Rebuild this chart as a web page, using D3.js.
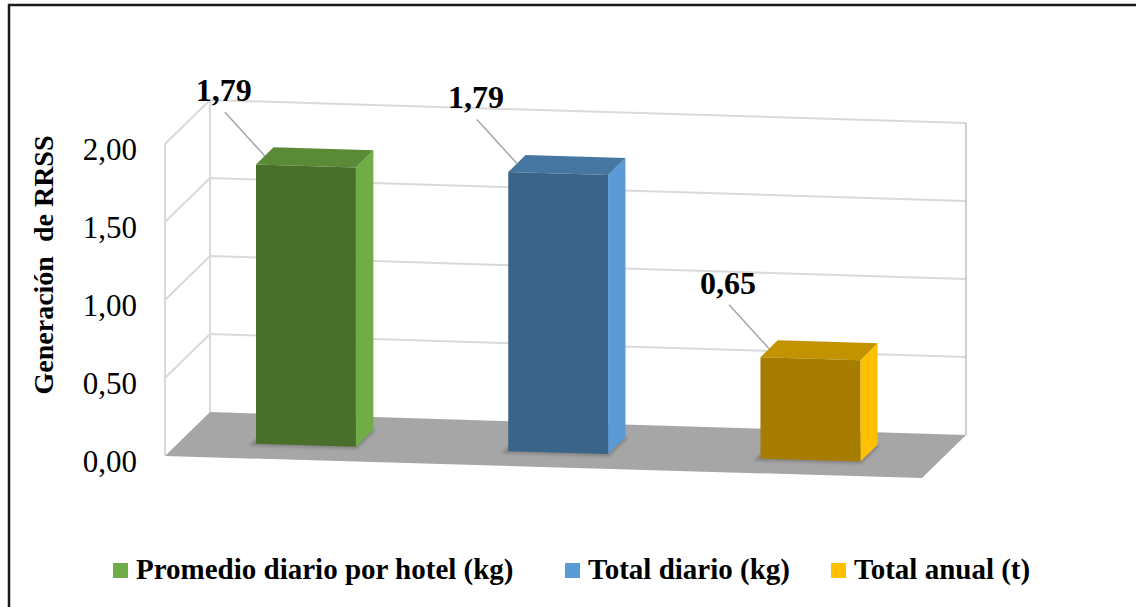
<!DOCTYPE html>
<html>
<head>
<meta charset="utf-8">
<script src="https://cdn.jsdelivr.net/npm/d3@7"></script>
<style>
  body { margin: 0; background: #fff; }
  svg { display: block; font-family: "Liberation Serif", "Times New Roman", serif; }
</style>
</head>
<body>
<script>
// data
const categories = ['Promedio diario por hotel (kg)', 'Total diario (kg)', 'Total anual (t)'];
const values = [1.79, 1.79, 0.65];
const valueLabels = ['1,79', '1,79', '0,65'];
const yTicks = [0, 0.5, 1, 1.5, 2];
const yTickLabels = ['0,00', '0,50', '1,00', '1,50', '2,00'];

const colors = {
  front: ['#4a6f2b', '#3a6488', '#a67d00'],
  side: ['#70ad47', '#5b9bd5', '#ffc000'],
  top: ['#5a8a36', '#4677a3', '#c29200'],
  legend: ['#70ad47', '#5b9bd5', '#ffc000']
};

const width = 1136, height = 607;

// floor corners of the 3D box (screen px)
const FL = [165, 456], FR = [922, 478], BL = [210, 412], BR = [966, 435];

// u across (0..1), depth (0 front .. 1 back)
const x = d3.scalePoint().domain(categories).range([0, 1]).padding(0.5);
const y = d3.scaleLinear().domain([0, 2]).range([0, 312]);
const barW = 0.132, d0 = 0.33, d1 = 0.72;

function proj(u, d, v) {
  const fx = FL[0] + u * (FR[0] - FL[0]), fy = FL[1] + u * (FR[1] - FL[1]);
  const bx = BL[0] + u * (BR[0] - BL[0]), by = BL[1] + u * (BR[1] - BL[1]);
  return [fx + d * (bx - fx), fy + d * (by - fy) - y(v)];
}

const svg = d3.select('body').append('svg')
  .attr('width', width).attr('height', height);

const defs = svg.append('defs');
defs.append('filter').attr('id', 'blur')
  .append('feGaussianBlur').attr('stdDeviation', 1.5);

// frame
svg.append('rect')
  .attr('x', 9).attr('y', 5)
  .attr('width', width + 20).attr('height', height + 20)
  .attr('fill', 'none').attr('stroke', '#1a1a1a').attr('stroke-width', 2.5);

const line = d3.line();

// floor
svg.append('path')
  .attr('d', line([proj(0, 0, 0), proj(1, 0, 0), proj(1, 1, 0), proj(0, 1, 0)]) + 'Z')
  .attr('fill', '#a6a6a6');

// gridlines: back wall and side wall
const grid = svg.append('g').attr('fill', 'none').attr('stroke', '#d9d9d9').attr('stroke-width', 2);
yTicks.filter(v => v > 0).forEach(v => {
  grid.append('path').attr('d', line([proj(0, 0, v), proj(0, 1, v), proj(1, 1, v)]));
});
// wall edges
grid.append('path').attr('d', line([proj(0, 0, 0), proj(0, 0, 2)]));
grid.append('path').attr('d', line([proj(0, 1, 0), proj(0, 1, 2)]));
svg.append('path')
  .attr('d', line([proj(1, 1, 0), proj(1, 1, 2)]))
  .attr('stroke', '#bfbfbf').attr('stroke-width', 1.5);

// y tick labels
svg.append('g').selectAll('text')
  .data(yTicks)
  .join('text')
  .attr('x', 137)
  .attr('y', d => proj(0, 0, d)[1] + 16)
  .attr('text-anchor', 'end')
  .attr('font-size', 31)
  .text((d, i) => yTickLabels[i]);

// axis title
svg.append('text')
  .attr('transform', 'translate(53,265) rotate(-90)')
  .attr('text-anchor', 'middle')
  .attr('font-size', 28)
  .attr('font-weight', 'bold')
  .style('white-space', 'pre')
  .text('Generación  de RRSS');

// bars
const bars = svg.append('g').selectAll('g')
  .data(values.map((v, i) => ({ v, i, c: categories[i] })))
  .join('g');

bars.each(function (d) {
  const g = d3.select(this);
  const u0 = x(d.c) - barW / 2, u1 = x(d.c) + barW / 2;
  // shadow
  g.append('path')
    .attr('d', line([proj(u0 - 0.006, d0 - 0.05, 0), proj(u1 + 0.004, d0 - 0.05, 0),
      proj(u1 + 0.004, d1, 0), proj(u0 - 0.006, d1, 0)]) + 'Z')
    .attr('fill', '#6e6e6e').attr('opacity', 0.6).attr('filter', 'url(#blur)');
  // side face
  g.append('path')
    .attr('d', line([proj(u1, d0, 0), proj(u1, d1, 0), proj(u1, d1, d.v), proj(u1, d0, d.v)]) + 'Z')
    .attr('fill', colors.side[d.i]);
  // top face
  g.append('path')
    .attr('d', line([proj(u0, d0, d.v), proj(u1, d0, d.v), proj(u1, d1, d.v), proj(u0, d1, d.v)]) + 'Z')
    .attr('fill', colors.top[d.i]);
  // front face
  g.append('path')
    .attr('d', line([proj(u0, d0, 0), proj(u1, d0, 0), proj(u1, d0, d.v), proj(u0, d0, d.v)]) + 'Z')
    .attr('fill', colors.front[d.i]);

  // leader line + value label
  const end = proj(u0, (d0 + d1) / 2, d.v);
  const start = [end[0] - 40, end[1] - 44];
  g.append('path')
    .attr('d', line([start, end]))
    .attr('stroke', '#a6a6a6').attr('stroke-width', 1.5);
  g.append('text')
    .attr('x', start[0] - 1)
    .attr('y', start[1] - 11)
    .attr('text-anchor', 'middle')
    .attr('font-size', 32)
    .attr('font-weight', 'bold')
    .text(valueLabels[d.i]);
});

// legend
const legendX = [113, 565, 831];
const legend = svg.append('g').selectAll('g')
  .data(categories)
  .join('g')
  .attr('transform', (d, i) => 'translate(' + legendX[i] + ',563)');
legend.append('rect')
  .attr('width', 15).attr('height', 15)
  .attr('fill', (d, i) => colors.legend[i]);
legend.append('text')
  .attr('x', 23).attr('y', 16)
  .attr('font-size', 29)
  .attr('font-weight', 'bold')
  .text(d => d);
</script>
</body>
</html>
